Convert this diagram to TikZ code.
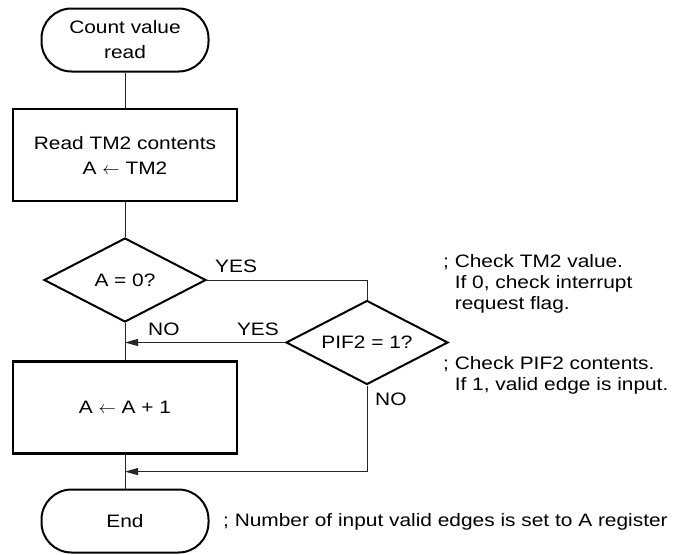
\documentclass[tikz,border=0pt]{standalone}
\usepackage{fontspec}
\setmainfont[FakeStretch=1.16]{Liberation Sans}
\usetikzlibrary{arrows.meta,positioning,calc,shapes.geometric}

\begin{document}
\begin{tikzpicture}[
  x=1pt, y=-1pt,
  txt/.style={font=\fontsize{18}{25}\selectfont},
  term/.style={draw, line width=2pt, rounded corners=30pt, minimum width=167pt, minimum height=63pt, align=center, txt},
  proc/.style={draw, line width=2.4pt, minimum width=224pt, minimum height=92pt, align=center, txt},
  test/.style={draw, diamond, line width=2pt, aspect=1.9, minimum width=162pt, minimum height=84pt, inner sep=0pt, txt},
  flow/.style={line width=0.9pt, black!85},
  arr/.style={flow, -{Triangle[length=13pt, width=7pt]}},
  lbl/.style={font=\fontsize{18}{21}\selectfont, inner sep=0pt},
  note/.style={lbl, align=left, anchor=north west}
]
  \useasboundingbox (0,0) rectangle (676,554);
  % Flow chart
  \node[term] (start) at (125,40) {Count value\\read};
  \node[proc] (rd) at (125,155) {Read TM2 contents\\A $\leftarrow$ TM2};
  \node[test] (zero) at (125,280) {A = 0?};
  \node[test] (pif) at (367,342.5) {PIF2 = 1?};
  \node[proc] (inc) at (125,407.5) {A $\leftarrow$ A + 1};
  \node[term] (finish) at (125,521) {End};
  % Connectors
  \draw[flow] (start) -- (rd);
  \draw[flow] (rd) -- (zero);
  \draw[flow] (zero) -- (inc);
  \draw[flow] (zero.east) -| (pif.north);
  \coordinate (join) at (pif.west -| zero.south);
  \draw[arr] (pif.west) -- (join);
  \coordinate (merge) at ($(inc.south)!.5!(finish.north)$);
  \draw[arr] (pif.south) |- (merge);
  \draw[flow] (inc) -- (finish);
  % Branch labels
  \node[lbl, anchor=base west] (yes1) at ([xshift=8pt, yshift=8pt]zero.east) {YES};
  \node[lbl, anchor=base east] (yes2) at ([xshift=-6pt, yshift=7pt]pif.west) {YES};
  \node[lbl, anchor=base west] (no1) at ([xshift=23pt, yshift=7pt]join) {NO};
  \node[lbl, anchor=base west] (no2) at ([xshift=8pt, yshift=-20pt]pif.south) {NO};
  % Comments
  \node[note] (tmnote) at (443,254) {;\ Check TM2 value.\\\hphantom{;\ }If 0, check interrupt\\\hphantom{;\ }request flag.};
  \node[note] (pifnote) at (443,356) {;\ Check PIF2 contents.\\\hphantom{;\ }If 1, valid edge is input.};
  \node[lbl, anchor=base west] (endnote) at (223,526) {; Number of input valid edges is set to A register};
\end{tikzpicture}
\end{document}
